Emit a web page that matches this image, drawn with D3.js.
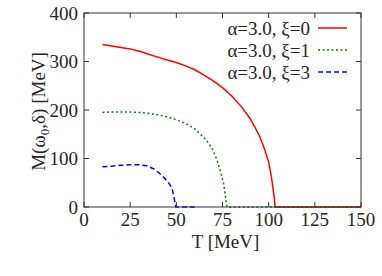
<!DOCTYPE html>
<html><head><meta charset="utf-8">
<script src="https://cdn.jsdelivr.net/npm/d3@7"></script>
<style>body{margin:0;background:#fff}svg{display:block}</style>
</head><body><svg id="c" width="382" height="276"></svg>
<script>
const xTicks = [0, 25, 50, 75, 100, 125, 150];
const yTicks = [0, 100, 200, 300, 400];
const redT = [10,15,20,25,30,35,40,45,50,55,60,65,70,75,80,85,90,95,98,100,101.5,103,103.5,150];
const redM = [335,332,329,326,321,315,309,303,298,291,283,272,260,246,229,208,182,147,117,92,62,20,0,0];
const greenT = [10,15,20,25,30,35,40,45,50,55,60,65,68,70,72,74,75.5,76.5,77,77.5,150];
const greenM = [195,196,196,196,195,193,190,186,180,172,161,143,129,116,97,72,50,25,8,0,0];
const blueT = [10,15,20,25,30,34,38,41,44,46,47.5,48.5,49.3,49.8,60];
const blueM = [83,84,86,87,87,85,78,69,58,49,40,25,8,0,0];
const labels = ["α=3.0, ξ=0","α=3.0, ξ=1","α=3.0, ξ=3"];
const colors = ["#ff0000","#008000","#0000ff"];
const dashes = [null,"2,2.5","5,3"];
const FF = "'Liberation Serif', 'Times New Roman', serif";

const svg = d3.select("#c").attr("font-family", FF);
const L=84, R=361, T=13, B=207;
const x = d3.scaleLinear().domain([0,150]).range([L,R]);
const y = d3.scaleLinear().domain([0,400]).range([B,T]);
const tk = 5;
const txt = (sel)=>sel.attr("font-family",FF).attr("fill","#262626").attr("font-size",19);

const g = svg.append("g");
xTicks.forEach(v=>{
  g.append("line").attr("x1",x(v)).attr("x2",x(v)).attr("y1",B).attr("y2",B-tk).attr("stroke","#333");
  g.append("line").attr("x1",x(v)).attr("x2",x(v)).attr("y1",T).attr("y2",T+tk).attr("stroke","#333");
  txt(g.append("text")).attr("x",x(v)).attr("y",B+19).attr("text-anchor","middle").text(v);
});
yTicks.forEach(v=>{
  g.append("line").attr("x1",L).attr("x2",L+tk).attr("y1",y(v)).attr("y2",y(v)).attr("stroke","#333");
  g.append("line").attr("x1",R).attr("x2",R-tk).attr("y1",y(v)).attr("y2",y(v)).attr("stroke","#333");
  txt(g.append("text")).attr("x",L-6).attr("y",y(v)+6.5).attr("text-anchor","end").text(v);
});

const line = d3.line().x(d=>x(d[0])).y(d=>y(d[1]));
const series = [d3.zip(redT,redM), d3.zip(greenT,greenM), d3.zip(blueT,blueM)];
series.forEach((s,i)=>{
  svg.append("path").attr("d",line(s)).attr("fill","none").attr("stroke",colors[i])
    .attr("stroke-width",1.5).attr("stroke-dasharray",dashes[i]);
});

svg.append("rect").attr("x",L).attr("y",T).attr("width",R-L).attr("height",B-T)
  .attr("fill","none").attr("stroke","#333").attr("stroke-width",1);

labels.forEach((t,i)=>{
  const yy = 28 + i*22;
  txt(svg.append("text")).attr("x",310).attr("y",yy+6.5).attr("text-anchor","end").text(t);
  svg.append("line").attr("x1",318).attr("x2",347).attr("y1",yy).attr("y2",yy)
    .attr("stroke",colors[i]).attr("stroke-width",1.5).attr("stroke-dasharray",dashes[i]);
});

txt(svg.append("text")).attr("x",(L+R)/2 + 3).attr("y",248).attr("text-anchor","middle").text("T [MeV]");
const yl = txt(svg.append("text")).attr("transform","translate(45,111.5) rotate(-90)").attr("text-anchor","middle");
yl.append("tspan").text("M(ω");
yl.append("tspan").attr("font-size",13).attr("dy",4).text("0");
yl.append("tspan").attr("dy",-4).text(",δ) [MeV]");
</script></body></html>
